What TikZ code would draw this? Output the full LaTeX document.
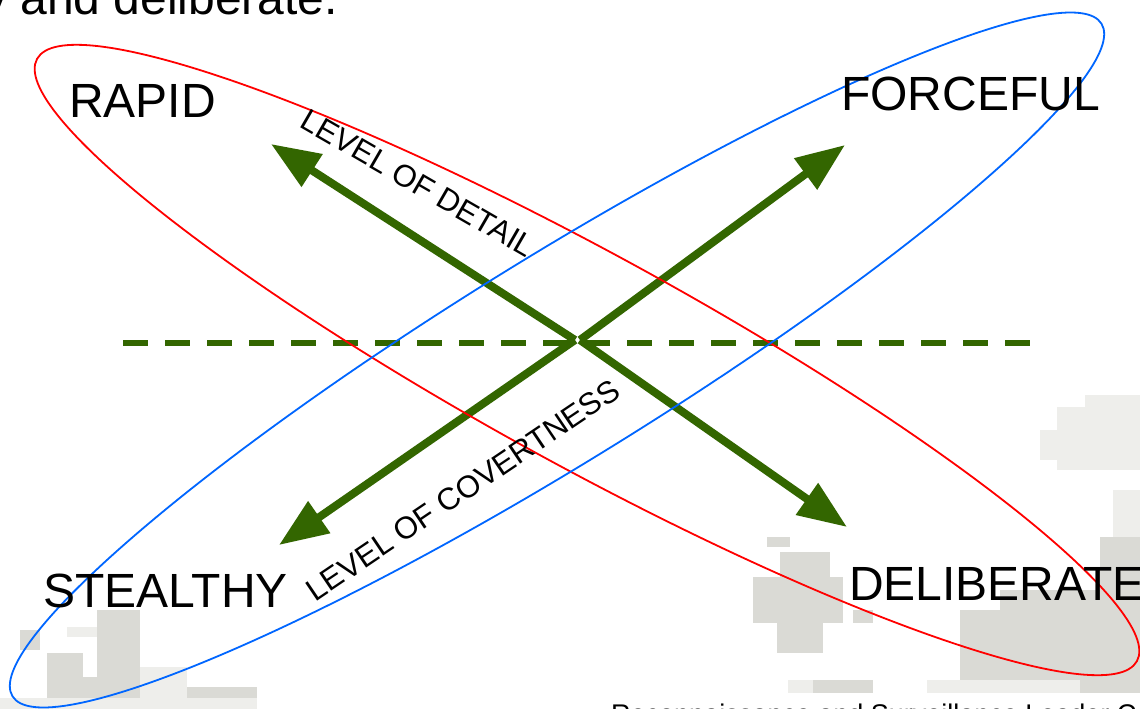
\documentclass[tikz,border=0pt]{standalone}
\usepackage{fontspec}
\setmainfont{Liberation Sans}
\usetikzlibrary{arrows.meta}
\definecolor{arrowgreen}{RGB}{51,102,0}
\definecolor{ellred}{RGB}{255,0,0}
\definecolor{ellblue}{RGB}{0,102,255}
\definecolor{camoA}{RGB}{218,218,213}
\definecolor{camoB}{RGB}{238,238,235}
\begin{document}
\begin{tikzpicture}[x=1pt,y=-1pt,
  patchA/.style={fill=camoA, draw=none},
  patchB/.style={fill=camoB, draw=none},
  oval/.style={line width=1.8pt},
  bigarrow/.style={draw=arrowgreen, line width=8pt, line cap=butt,
    -{Triangle[length=49pt,width=37pt]}},
  axisline/.style={draw=arrowgreen, line width=6pt, dash pattern=on 25pt off 17pt},
  corner/.style={font=\fontsize{48}{48}\selectfont, inner sep=0pt, anchor=base west},
  axislabel/.style={font=\fontsize{31}{31}\selectfont, inner sep=0pt},
]
\useasboundingbox (0,0) rectangle (1140,709);
\fill[white] (0,0) rectangle (1140,709);

% background camouflage patches
\fill[patchB] (1057,407) rectangle (1140,470);
\fill[patchB] (1085,395) rectangle (1140,410);
\fill[patchB] (1040,430) rectangle (1075,460);
\fill[patchB] (1113,490) rectangle (1140,537);
\fill[patchA] (1100,537) rectangle (1140,600);
\fill[patchA] (1000,590) rectangle (1140,612);
\fill[patchA] (960,610) rectangle (1140,693);
\fill[patchB] (927,680) rectangle (1080,693);
\fill[patchB] (788,680) rectangle (843,693);
\fill[patchA] (813,680) rectangle (873,693);
\fill[patchA] (767,537) rectangle (790,547);
\fill[patchA] (780,552) rectangle (830,580);
\fill[patchA] (753,577) rectangle (843,623);
\fill[patchA] (777,620) rectangle (823,653);
\fill[patchA] (853,610) rectangle (873,623);
\fill[patchA] (97,610) rectangle (140,709);
\fill[patchA] (47,653) rectangle (83,709);
\fill[patchA] (20,630) rectangle (40,650);
\fill[patchB] (67,627) rectangle (97,637);
\fill[patchA] (83,677) rectangle (140,709);
\fill[patchB] (140,667) rectangle (187,709);
\fill[patchA] (187,687) rectangle (257,709);
\fill[patchB] (0,698) rectangle (257,709);

% coordinates
\coordinate (cR) at (587,360);
\coordinate (cB) at (557,360);
\coordinate (hubL) at (575,340);
\coordinate (hubR) at (580,340);
\coordinate (tipRapid) at (271,144);
\coordinate (tipStealthy) at (279,545);
\coordinate (tipForceful) at (845,145);
\coordinate (tipDeliberate) at (847,527);
\coordinate (axisW) at (123,343);
\coordinate (axisE) at (1030,343);

% dashed axis
\draw[axisline] (axisW) -- (axisE);

% arrows
\draw[bigarrow] (hubL) -- (tipRapid);
\draw[bigarrow] (hubL) -- (tipStealthy);
\draw[bigarrow] (hubR) -- (tipForceful);
\draw[bigarrow] (hubR) -- (tipDeliberate);

% ellipses
\draw[oval, ellred, rotate around={-28.7:(cR)}] (cR) ellipse [x radius=627pt, y radius=106pt];
\draw[oval, ellblue, rotate around={31.7:(cB)}] (cB) ellipse [x radius=640pt, y radius=102.5pt];

% labels
\node[corner] (rapid) at (69,117) {RAPID};
\node[corner] (forceful) at (841,110) {FORCEFUL};
\node[corner] (stealthy) at (43,607) {STEALTHY};
\node[corner] (deliberate) at (849,600) {DELIBERATE};
\node[axislabel, rotate=-30] (detail) at (418,183) {LEVEL OF DETAIL};
\node[axislabel, rotate=34] (covert) at (463,490) {LEVEL OF COVERTNESS};
\node[corner] (topline) at (-17,15) {y and deliberate.};
\node[font=\fontsize{27}{27}\selectfont, inner sep=0pt, anchor=base west] (footer) at (611,723) {Reconnaissance and Surveillance Leader Course};
\end{tikzpicture}
\end{document}
